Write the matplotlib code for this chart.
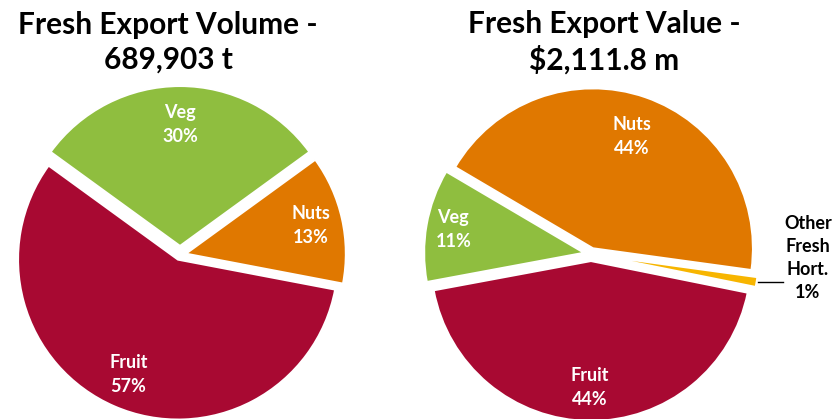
import matplotlib
matplotlib.use("Agg")
import matplotlib.pyplot as plt
import numpy as np

plt.rcParams['font.family'] = ['Lato', 'DejaVu Sans']

# Data
vol_title = "Fresh Export Volume -\n689,903 t"
vol_names = ["Veg", "Nuts", "Fruit"]
vol_share = [30, 13, 57]
vol_colors = ["#8FBE3F", "#E07800", "#A80932"]

val_title = "Fresh Export Value -\n\\$2,111.8 m"
val_names = ["Nuts", "Other\nFresh\nHort.", "Fruit", "Veg"]
val_share = [43.7, 1.0, 43.9, 11.4]
val_labels = ["44%", "1%", "44%", "11%"]
val_colors = ["#E07800", "#F7B500", "#A80932", "#8FBE3F"]

fig = plt.figure(figsize=(8.36, 4.19), dpi=100)
ax = fig.add_axes([0, 0, 1, 1])

R = 160
lab_kw = dict(color='white', fontsize=13, fontweight='bold', ha='center', va='center', linespacing=1.5)

def label_pos(w, frac):
    ang = np.deg2rad((w.theta1 + w.theta2) / 2)
    cx, cy = w.center
    return cx + frac * w.r * np.cos(ang), cy + frac * w.r * np.sin(ang)

# Left pie (explode in data units = pixels)
wl, _ = ax.pie(vol_share, colors=vol_colors, startangle=144, counterclock=False,
               center=(180, 164), radius=R, explode=[9, 6, 5],
               wedgeprops=dict(edgecolor='white', linewidth=1.5), frame=True)
left_frac = [0.76, 0.80, 0.78]
for w, n, s, f in zip(wl, vol_names, vol_share, left_frac):
    x, y = label_pos(w, f)
    ax.text(x, y, f"{n}\n{s}%", **lab_kw)

# Right pie
wr, _ = ax.pie(val_share, colors=val_colors, startangle=149.5, counterclock=False,
               center=(591, 165), radius=R, explode=[6, 8, 7, 7],
               wedgeprops=dict(edgecolor='white', linewidth=1.5), frame=True)
right_frac = [0.74, 1.0, 0.79, 0.83]
for i, (w, n, l, f) in enumerate(zip(wr, val_names, val_labels, right_frac)):
    if i == 1:
        ang = np.deg2rad((w.theta1 + w.theta2) / 2)
        cx, cy = w.center
        ex, ey = cx + w.r * np.cos(ang), cy + w.r * np.sin(ang)
        ax.plot([ex + 1, 783], [ey, ey], color='black', lw=1)
        ax.text(808, 419 - 258, f"{n}\n{l}", color='black', fontsize=13, fontweight='bold',
                ha='center', va='center', linespacing=1.45)
    else:
        x, y = label_pos(w, f)
        ax.text(x, y, f"{n}\n{l}", **lab_kw)

ax.set_xlim(0, 836)
ax.set_ylim(0, 419)
ax.set_aspect('equal')
ax.axis('off')

title_kw = dict(fontsize=21.5, fontweight='bold', ha='center', va='center', color='black', linespacing=1.3)
ax.text(168, 419 - 42, vol_title, **title_kw)
ax.text(604, 419 - 42, val_title, **title_kw)

fig.savefig("out.png", dpi=100)
